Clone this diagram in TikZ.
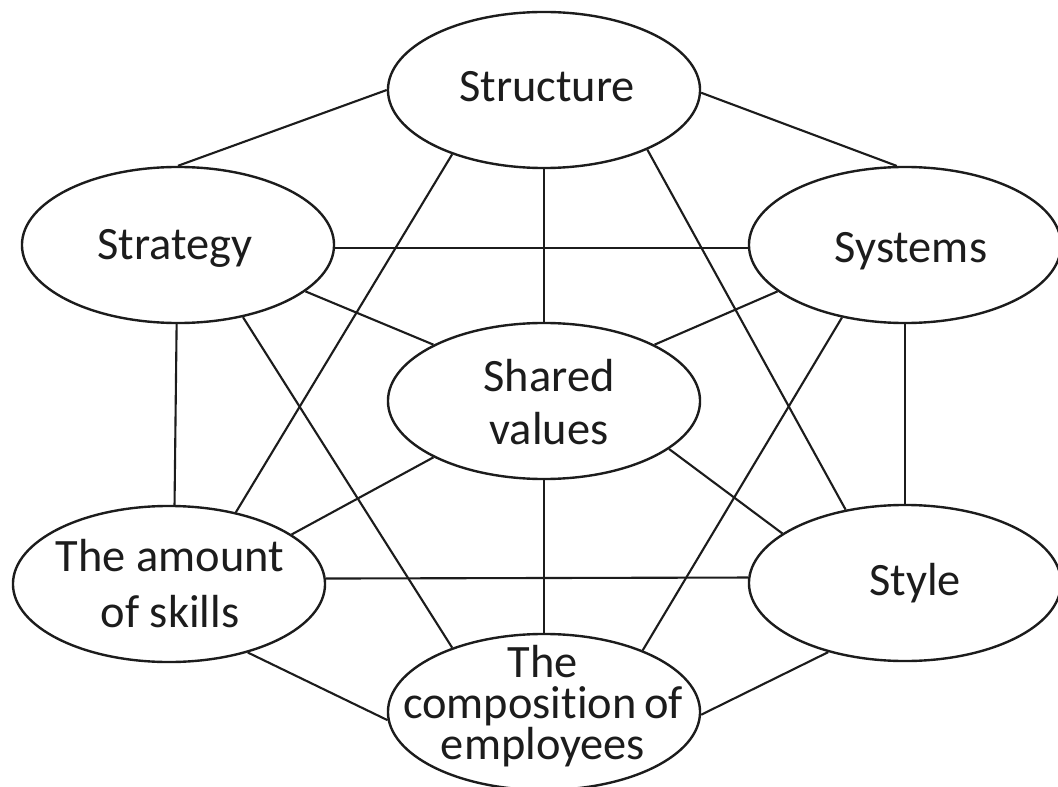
\documentclass[tikz,border=0pt]{standalone}
\usepackage{fontspec}
\setmainfont{Carlito}[Ligatures=NoCommon]
\usetikzlibrary{shapes.geometric}
\definecolor{inkc}{RGB}{28,28,28}

\begin{document}
\begin{tikzpicture}[
  x=0.025cm, y=-0.025cm,
  blob/.style={ellipse, draw=inkc, line width=1.7pt, fill=white, minimum width=7.8cm, minimum height=3.9cm, inner sep=0pt},
  word/.style={font=\fontsize{33}{40}\selectfont, text=inkc, align=center, inner sep=0pt},
  link/.style={draw=inkc, line width=1.5pt},
]
\def\lx{178}   % left column centre
\def\mx{544}   % middle column centre
\def\rx{905}   % right column centre

% ---- canvas ----
\fill[white] (0,0) rectangle (1058,787);
\useasboundingbox (0,0) rectangle (1058,787);

% ---- the seven ellipses ----
\node[blob] (struct) at (\mx,90)  {};
\node[blob] (strat)  at (\lx,245) {};
\node[blob] (sys)    at (\rx,245) {};
\node[blob] (shared) at (\mx,401) {};
\node[blob] (skills) at (169,584) {};
\node[blob] (style)  at (\rx,583) {};
\node[blob] (staff)  at (\mx,712) {};

% ---- labels ----
\node[word, anchor=base] (struct-t) at (547,102) {Structure};
\node[word, anchor=base] (strat-t)  at (175,260) {Strategy};
\node[word, anchor=base] (sys-t)    at (911,263) {Systems};
\node[word, anchor=base] (style-t)  at (915,595) {Style};
\node[word, font=\fontsize{33}{37.7}\selectfont] (shared-t) at (549,402) {Shared\\values};
\node[word, font=\fontsize{33}{39.8}\selectfont] (skills-t) at (170,584) {The amount\\of skills};
\node[word, font=\fontsize{33}{29}\selectfont] (staff-t)  at (543,706) {The\\composition\,of\\employees};

% ---- links from Structure ----
\draw[link] (struct.180) -- (strat.90);
\draw[link] (struct.-1) -- (sys.96);
\draw[link] (struct.south) -- (shared.north);
\draw[link] (struct.215) -- (skills.47);
\draw[link] (struct.-30) -- (style.129);

% ---- links from Strategy ----
\draw[link] (strat.-1) -- (sys.181);
\draw[link] (strat.-20) -- (shared.153);
\draw[link] (strat.269) -- (skills.86);
\draw[link] (strat.-48) -- (staff.145);

% ---- links from Systems ----
\draw[link] (sys.200) -- (shared.27);
\draw[link] (sys.south) -- (style.north);
\draw[link] (sys.229) -- (staff.32);

% ---- links from Shared values ----
\draw[link] (shared.207) -- (skills.22);
\draw[link] (shared.-21) -- (style.158);
\draw[link] (shared.south) -- (staff.north);

% ---- bottom row ----
\draw[link] (skills.2) -- (style.178);
\draw[link] (skills.-41) -- (staff.183);
\draw[link] (style.222) -- (staff.-1);

\end{tikzpicture}
\end{document}
